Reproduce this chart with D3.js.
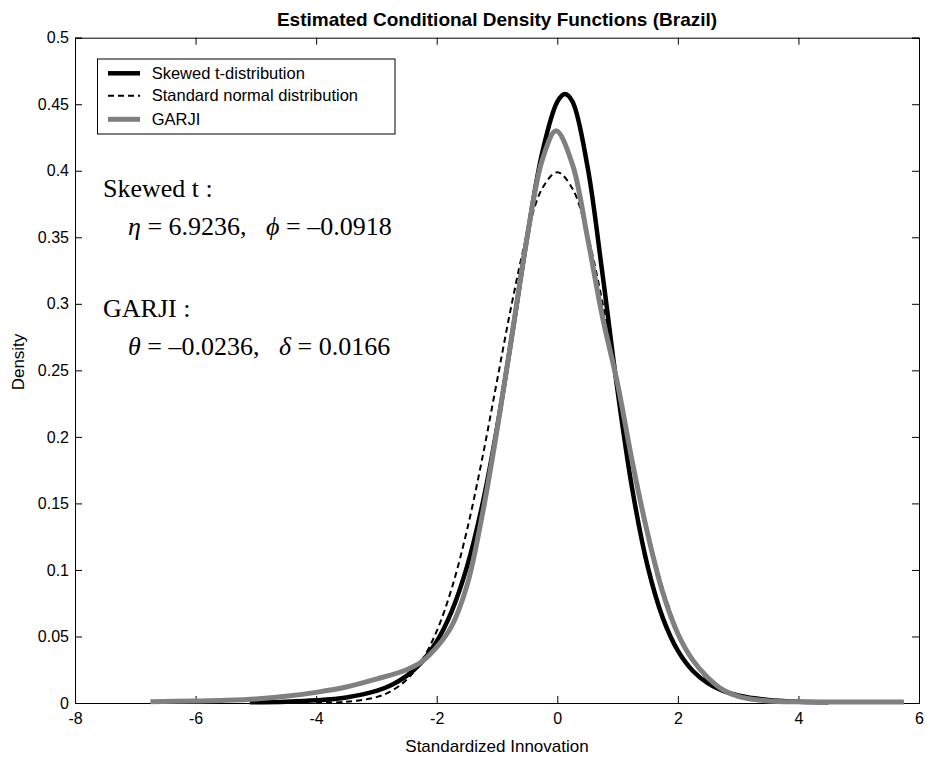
<!DOCTYPE html>
<html>
<head>
<meta charset="utf-8">
<script src="https://cdn.jsdelivr.net/npm/d3@7"></script>
<style>
  html, body { margin: 0; padding: 0; background: #fff; }
  svg { display: block; }
</style>
</head>
<body>
<svg id="chart" width="927" height="759"></svg>
<script>
// Skewed t-distribution density, sampled along the innovation axis
const skewX = [-5.1, -4.5, -4, -3.5, -3, -2.75, -2.5, -2.25, -2, -1.75, -1.5, -1.25, -1, -0.75, -0.5, -0.25, 0, 0.125, 0.25, 0.5, 0.75, 1, 1.25, 1.5, 1.75, 2, 2.25, 2.5, 2.75, 3, 3.5, 4, 4.5];
const skewY = [0.0005, 0.0010, 0.0020, 0.0042, 0.0091, 0.0136, 0.0204, 0.0307, 0.0462, 0.0691, 0.1021, 0.1476, 0.2066, 0.2767, 0.3501, 0.4136, 0.4518, 0.4576, 0.4522, 0.4035, 0.3224, 0.2347, 0.1590, 0.1025, 0.0640, 0.0393, 0.0240, 0.0147, 0.0091, 0.0057, 0.0023, 0.0010, 0.0005];

// Standard normal density
const normX = [-4, -3.5, -3, -2.75, -2.5, -2.25, -2, -1.75, -1.5, -1.25, -1, -0.75, -0.5, -0.25, 0, 0.25, 0.5, 0.75, 1, 1.25, 1.5, 1.75, 2, 2.25, 2.5, 2.75, 3, 3.5, 4];
const normY = [0.0001, 0.0009, 0.0044, 0.0091, 0.0175, 0.0317, 0.0540, 0.0863, 0.1295, 0.1826, 0.2420, 0.3011, 0.3521, 0.3867, 0.3989, 0.3867, 0.3521, 0.3011, 0.2420, 0.1826, 0.1295, 0.0863, 0.0540, 0.0317, 0.0175, 0.0091, 0.0044, 0.0009, 0.0001];

// GARJI conditional density
const garjiX = [-6.75, -6, -5.5, -5, -4.5, -4, -3.5, -3, -2.5, -2.25, -2, -1.75, -1.5, -1.25, -1, -0.75, -0.5, -0.25, -0.02, 0.25, 0.5, 0.75, 1, 1.25, 1.5, 1.75, 2, 2.25, 2.5, 2.75, 3, 3.5, 4, 4.5, 5, 5.75];
const garjiY = [0.0010, 0.0015, 0.0020, 0.0030, 0.0050, 0.0080, 0.0120, 0.0180, 0.0250, 0.0310, 0.0420, 0.0580, 0.0880, 0.1400, 0.2050, 0.2770, 0.3500, 0.4080, 0.4300, 0.4050, 0.3500, 0.2900, 0.2400, 0.1800, 0.1270, 0.0830, 0.0520, 0.0320, 0.0190, 0.0098, 0.0050, 0.0015, 0.0009, 0.0008, 0.0008, 0.0008];

const xTicks = [-8, -6, -4, -2, 0, 2, 4, 6];
const yTicks = [0, 0.05, 0.1, 0.15, 0.2, 0.25, 0.3, 0.35, 0.4, 0.45, 0.5];

const legendLabels = ["Skewed t-distribution", "Standard normal distribution", "GARJI"];

const svg = d3.select("#chart");
const margin = { left: 75, right: 8, top: 37.7, bottom: 56 };
const W = 927, H = 759;

const x = d3.scaleLinear().domain([-8, 6]).range([margin.left, W - margin.right]);
const y = d3.scaleLinear().domain([0, 0.5]).range([H - margin.bottom, margin.top]);

const sans = "Arial, 'Liberation Sans', Helvetica, sans-serif";
const serif = "'Times New Roman', 'Liberation Serif', Times, serif";

// Title
svg.append("text")
  .attr("x", (x(-8) + x(6)) / 2).attr("y", 26)
  .attr("text-anchor", "middle")
  .attr("font-family", sans).attr("font-weight", "bold").attr("font-size", 19)
  .text("Estimated Conditional Density Functions (Brazil)");

// Axes with inward ticks on all four sides
const tickLen = 7;
const gB = svg.append("g").attr("transform", `translate(0,${y(0)})`)
  .call(d3.axisBottom(x).tickValues(xTicks).tickSize(-tickLen).tickPadding(10).tickFormat(d => String(d)));
const gT = svg.append("g").attr("transform", `translate(0,${y(0.5)})`)
  .call(d3.axisTop(x).tickValues(xTicks).tickSize(-tickLen).tickFormat(""));
const gL = svg.append("g").attr("transform", `translate(${x(-8)},0)`)
  .call(d3.axisLeft(y).tickValues(yTicks).tickSize(-tickLen).tickPadding(6).tickFormat(d => String(+d.toFixed(2))));
const gR = svg.append("g").attr("transform", `translate(${x(6)},0)`)
  .call(d3.axisRight(y).tickValues(yTicks).tickSize(-tickLen).tickFormat(""));

[gB, gT, gL, gR].forEach(g => {
  g.select(".domain").attr("stroke", "#000").attr("stroke-width", 1);
  g.selectAll(".tick line").attr("stroke", "#000");
  g.selectAll("text").attr("font-family", sans).attr("font-size", 16).attr("fill", "#000");
});

// Axis titles
svg.append("text")
  .attr("x", (x(-8) + x(6)) / 2).attr("y", 752)
  .attr("text-anchor", "middle")
  .attr("font-family", sans).attr("font-size", 17)
  .text("Standardized Innovation");
svg.append("text")
  .attr("transform", `translate(24,362) rotate(-90)`)
  .attr("text-anchor", "middle")
  .attr("font-family", sans).attr("font-size", 17)
  .text("Density");

// Density curves
const line = d3.line().x(d => x(d[0])).y(d => y(d[1])).curve(d3.curveCatmullRom.alpha(0.5));
const plot = svg.append("g");

plot.append("path").datum(d3.zip(skewX, skewY))
  .attr("d", line).attr("fill", "none")
  .attr("stroke", "#000").attr("stroke-width", 4.5).attr("stroke-linejoin", "round");
plot.append("path").datum(d3.zip(normX, normY))
  .attr("d", line).attr("fill", "none")
  .attr("stroke", "#000").attr("stroke-width", 2).attr("stroke-dasharray", "6,4");
plot.append("path").datum(d3.zip(garjiX, garjiY))
  .attr("d", line).attr("fill", "none")
  .attr("stroke", "#808080").attr("stroke-width", 5).attr("stroke-linejoin", "round");

// Legend
const lg = svg.append("g");
lg.append("rect").attr("x", 97.5).attr("y", 59).attr("width", 297.5).attr("height", 75)
  .attr("fill", "#fff").attr("stroke", "#000").attr("stroke-width", 1);
const legendStyles = [
  { stroke: "#000", width: 4.5, dash: null },
  { stroke: "#000", width: 2, dash: "6,4" },
  { stroke: "#808080", width: 5, dash: null }
];
const rowY = [73.3, 95.7, 119.3];
legendLabels.forEach((lab, i) => {
  lg.append("line").attr("x1", 108).attr("x2", 140).attr("y1", rowY[i]).attr("y2", rowY[i])
    .attr("stroke", legendStyles[i].stroke).attr("stroke-width", legendStyles[i].width)
    .attr("stroke-dasharray", legendStyles[i].dash);
  lg.append("text").attr("x", 151.7).attr("y", rowY[i]).attr("dy", "0.35em")
    .attr("font-family", sans).attr("font-size", 16.5).text(lab);
});

// Parameter annotations
const ann = svg.append("g").attr("font-family", serif).attr("font-size", 26).attr("fill", "#000");
ann.append("text").attr("x", 103).attr("y", 196.7).text("Skewed t :");
const t1 = ann.append("text").attr("x", 128).attr("y", 235).attr("xml:space", "preserve");
t1.append("tspan").attr("font-style", "italic").text("η");
t1.append("tspan").text(" = 6.9236,   ");
t1.append("tspan").attr("font-style", "italic").text("ϕ");
t1.append("tspan").text(" = –0.0918");
ann.append("text").attr("x", 103).attr("y", 316.7).text("GARJI :");
const t2 = ann.append("text").attr("x", 128).attr("y", 355).attr("xml:space", "preserve");
t2.append("tspan").attr("font-style", "italic").text("θ");
t2.append("tspan").text(" = –0.0236,   ");
t2.append("tspan").attr("font-style", "italic").text("δ");
t2.append("tspan").text(" = 0.0166");
</script>
</body>
</html>
